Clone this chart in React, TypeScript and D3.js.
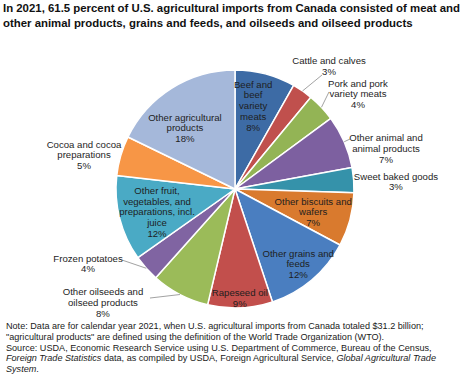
import React from "react";
import * as d3 from "d3";

const categories = [
  "Beef and beef variety meats",
  "Cattle and calves",
  "Pork and pork variety meats",
  "Other animal and animal products",
  "Sweet baked goods",
  "Other biscuits and wafers",
  "Other grains and feeds",
  "Rapeseed oil",
  "Other oilseeds and oilseed products",
  "Frozen potatoes",
  "Other fruit, vegetables, and preparations, incl. juice",
  "Cocoa and cocoa preparations",
  "Other agricultural products",
];
const shares = [8.2, 2.8, 3.9, 7.2, 3.4, 7.3, 12.1, 8.8, 7.9, 3.6, 11.6, 5.4, 17.8];
const pctLabels = ["8%", "3%", "4%", "7%", "3%", "7%", "12%", "9%", "8%", "4%", "12%", "5%", "18%"];
const labelLines = [
  ["Beef and", "beef", "variety", "meats"],
  ["Cattle and calves"],
  ["Pork and pork", "variety meats"],
  ["Other animal and", "animal products"],
  ["Sweet baked goods"],
  ["Other biscuits and", "wafers"],
  ["Other grains and", "feeds"],
  ["Rapeseed oil"],
  ["Other oilseeds and", "oilseed products"],
  ["Frozen potatoes"],
  ["Other fruit,", "vegetables, and", "preparations, incl.", "juice"],
  ["Cocoa and cocoa", "preparations"],
  ["Other agricultural", "products"],
];
const colors = [
  "#3d6ba5", "#c0504d", "#93b455", "#7d60a0", "#3592aa", "#d97a2e", "#4a7ec0",
  "#c24f4c", "#9bbb59", "#8064a2", "#4aaac5", "#f79646", "#a5b8da",
];

// layout: [mode, radius, dx, dy, leaderDx, leaderDy]  (mode: 1 inside, 0 outside)
const labelLayout: [number, number, number, number, number | null, number | null][] = [
  [1, 83, -3, -3, null, null],
  [0, 119, 26.5, -24.5, -7, 8.5],
  [0, 119, 36.5, -13.3, -29, -2],
  [0, 119, 41.8, 6.8, -36, -9.5],
  [0, 119, 42.3, 1.5, null, null],
  [1, 83, -2, 1.6, null, null],
  [1, 98, 0, 0, null, null],
  [1, 109, 0, 0, null, null],
  [0, 119, -77, 8, 47, -4.5],
  [0, 119, -58.2, -4.7, 34, -3.5],
  [1, 83, 2.4, 2.4, null, null],
  [0, 119, -36.7, -0.8, null, null],
  [1, 83, -6, 9.4, null, null],
];

const titleLines = [
  "In 2021, 61.5 percent of U.S. agricultural imports from Canada consisted of meat and",
  "other animal products, grains and feeds, and oilseeds and oilseed products",
];

const FONT = "'Liberation Sans', Arial, Helvetica, sans-serif";

export default function App() {
  React.useEffect(() => {
    document.body.style.margin = "0";
  }, []);
  const W = 474, H = 379;
  const cx = 235, cy = 189, R = 119;
  const pie = d3.pie<number>().sort(null).value((d) => d);
  const arcs = pie(shares);
  const arc = d3.arc<d3.PieArcDatum<number>>().innerRadius(0).outerRadius(R);
  const lh = 10.8;
  const fs = 9.6;

  return (
    <svg width={W} height={H} style={{ position: "absolute", left: 0, top: 0, background: "#fff" }} fontFamily={FONT}>
      <rect width={W} height={H} fill="#fff" />
      {titleLines.map((t, i) => (
        <text key={i} x={3} y={11.5 + i * 15} fontSize={11.4} fontWeight="bold" fill="#111">{t}</text>
      ))}
      <g transform={`translate(${cx},${cy})`}>
        {arcs.map((a, i) => (
          <path key={i} d={arc(a) || ""} fill={colors[i]} stroke="#fff" strokeWidth={1.5} strokeLinejoin="round" />
        ))}
      </g>
      {arcs.map((a, i) => {
        const [mode, r, dx, dy, ldx, ldy] = labelLayout[i];
        const mid = (a.startAngle + a.endAngle) / 2;
        const px = cx + r * Math.sin(mid);
        const py = cy - r * Math.cos(mid);
        const lx = px + dx, ly = py + dy;
        const lines = [...labelLines[i], pctLabels[i]];
        const top = ly - ((lines.length - 1) * lh) / 2;
        return (
          <g key={i}>
            {mode === 0 && ldx !== null && ldy !== null && (
              <line x1={cx + R * Math.sin(mid)} y1={cy - R * Math.cos(mid)} x2={lx + ldx} y2={ly + ldy} stroke="#8a8a8a" strokeWidth={0.8} />
            )}
            <text textAnchor="middle" fontSize={fs} fill="#1e1e1e">
              {lines.map((l, j) => (
                <tspan key={j} x={lx} y={top + j * lh + 3.4}>{l}</tspan>
              ))}
            </text>
          </g>
        );
      })}
      <g fontSize={9.1} fill="#1a1a1a">
        <text x={6} y={328.5}>Note: Data are for calendar year 2021, when U.S. agricultural imports from Canada totaled $31.2 billion;</text>
        <text x={6} y={339.5}>"agricultural products" are defined using the definition of the World Trade Organization (WTO).</text>
        <text x={6} y={350.5}>Source: USDA, Economic Research Service using U.S. Department of Commerce, Bureau of the Census,</text>
        <text x={6} y={361}>
          <tspan fontStyle="italic">Foreign Trade Statistics</tspan>
          <tspan> data, as compiled by USDA, Foreign Agricultural Service, </tspan>
          <tspan fontStyle="italic">Global Agricultural Trade</tspan>
        </text>
        <text x={6} y={372}>
          <tspan fontStyle="italic">System</tspan>
          <tspan>.</tspan>
        </text>
      </g>
    </svg>
  );
}
